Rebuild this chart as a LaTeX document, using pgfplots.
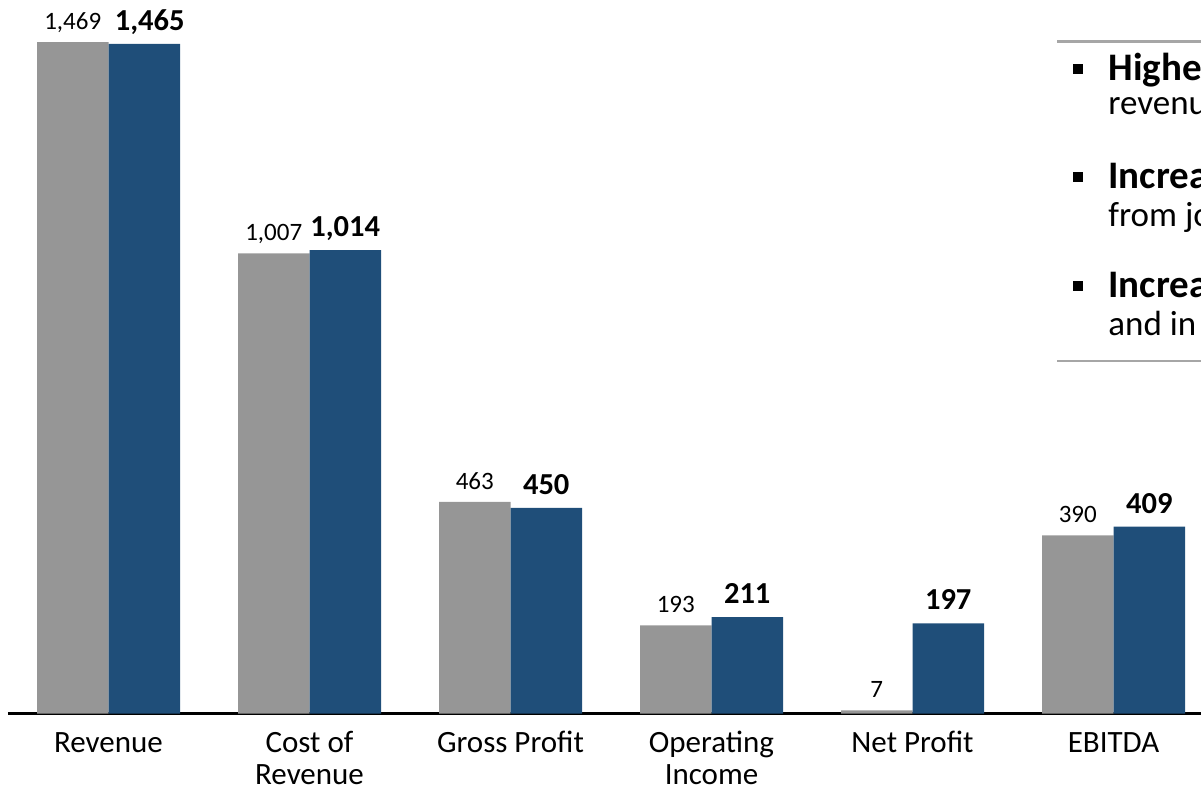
\documentclass[border=0pt]{standalone}
\usepackage{fontspec}
\setmainfont{Carlito}
\usepackage{pgfplots}
\pgfplotsset{compat=1.18}
\usepackage{pgfplotstable}
\definecolor{barGray}{RGB}{150,150,150}
\definecolor{barBlue}{RGB}{31,78,121}
\definecolor{lineGray}{RGB}{166,166,166}

\pgfplotstableread{
x y dx
0 1469 0
1 1007 0
2 463 0
3 193 0
4 7 0
5 390 0
}\prevtab
\pgfplotstableread{
x y dx
0 1465 2.75
1 1014 0
2 450 0
3 211 0
4 197 0
5 409 0
}\currtab

\newcommand{\tl}{\rule{0pt}{12pt}}

\begin{document}
\begin{tikzpicture}
\useasboundingbox (0,0) rectangle (600.5pt,-395.5pt);
\clip (0,0) rectangle (600.5pt,-395.5pt);
\begin{axis}[
  at={(4pt,-356.75pt)}, anchor=south west,
  x=100.5pt, y=0.2285pt,
  xmin=-0.5, xmax=5.5, ymin=0, ymax=1500,
  axis x line*=bottom, axis y line=none,
  axis line style={black, line width=1.25pt},
  ybar=0pt, bar width=35.75pt,
  xtick={0,1,2,3,4,5},
  xticklabels={\tl Revenue,{\tl Cost of\\Revenue},\tl Gross Profit,{\tl Operating\\Income},\tl Net Profit,\tl EBITDA},
  xticklabel style={font=\fontsize{15.5}{16}\selectfont, align=center, anchor=north, yshift=-7.5pt, inner sep=0pt},
  major tick length=0pt,
  clip=false,
  /pgf/number format/.cd, fixed, precision=0, 1000 sep={,}, assume math mode=true,
]
\addplot[fill=barGray, draw=none,
  nodes near coords,
  visualization depends on={\thisrow{dx} \as \dx},
  nodes near coords style={font=\fontsize{12.5}{15}\selectfont, anchor=base, inner sep=0pt, yshift=6.25pt, xshift=\dx pt, text=black}]
  table[x=x, y=y] {\prevtab};
\addplot[fill=barBlue, draw=none,
  nodes near coords,
  visualization depends on={\thisrow{dx} \as \dx},
  nodes near coords style={font=\fontsize{15.25}{18}\selectfont\bfseries, anchor=base, inner sep=0pt, yshift=6.75pt, xshift=\dx pt, text=black}]
  table[x=x, y=y] {\currtab};
\end{axis}
% commentary box (cut off at the right edge)
\draw[lineGray, line width=1.2pt] (528.5pt,-20.75pt) -- (610pt,-20.75pt);
\draw[lineGray, line width=1.2pt] (528.5pt,-180.5pt) -- (610pt,-180.5pt);
\fill[black] (536.5pt,-32pt) rectangle (541.5pt,-37pt);
\fill[black] (536.5pt,-86pt) rectangle (541.5pt,-91pt);
\fill[black] (536.5pt,-140.5pt) rectangle (541.5pt,-145.5pt);
\begin{scope}[every node/.style={anchor=base west, inner sep=0pt, font=\fontsize{17.5}{21}\selectfont}]
\node[font=\fontsize{19.5}{23}\selectfont\bfseries] at (554pt,-40.5pt) {Highe};
\node at (554pt,-57.5pt) {revenu};
\node[font=\fontsize{19.5}{23}\selectfont\bfseries] at (554pt,-94.5pt) {Increa};
\node at (554pt,-113.5pt) {from jo};
\node[font=\fontsize{19.5}{23}\selectfont\bfseries] at (554pt,-149pt) {Increa};
\node at (554pt,-168pt) {and in};
\end{scope}
\end{tikzpicture}
\end{document}
